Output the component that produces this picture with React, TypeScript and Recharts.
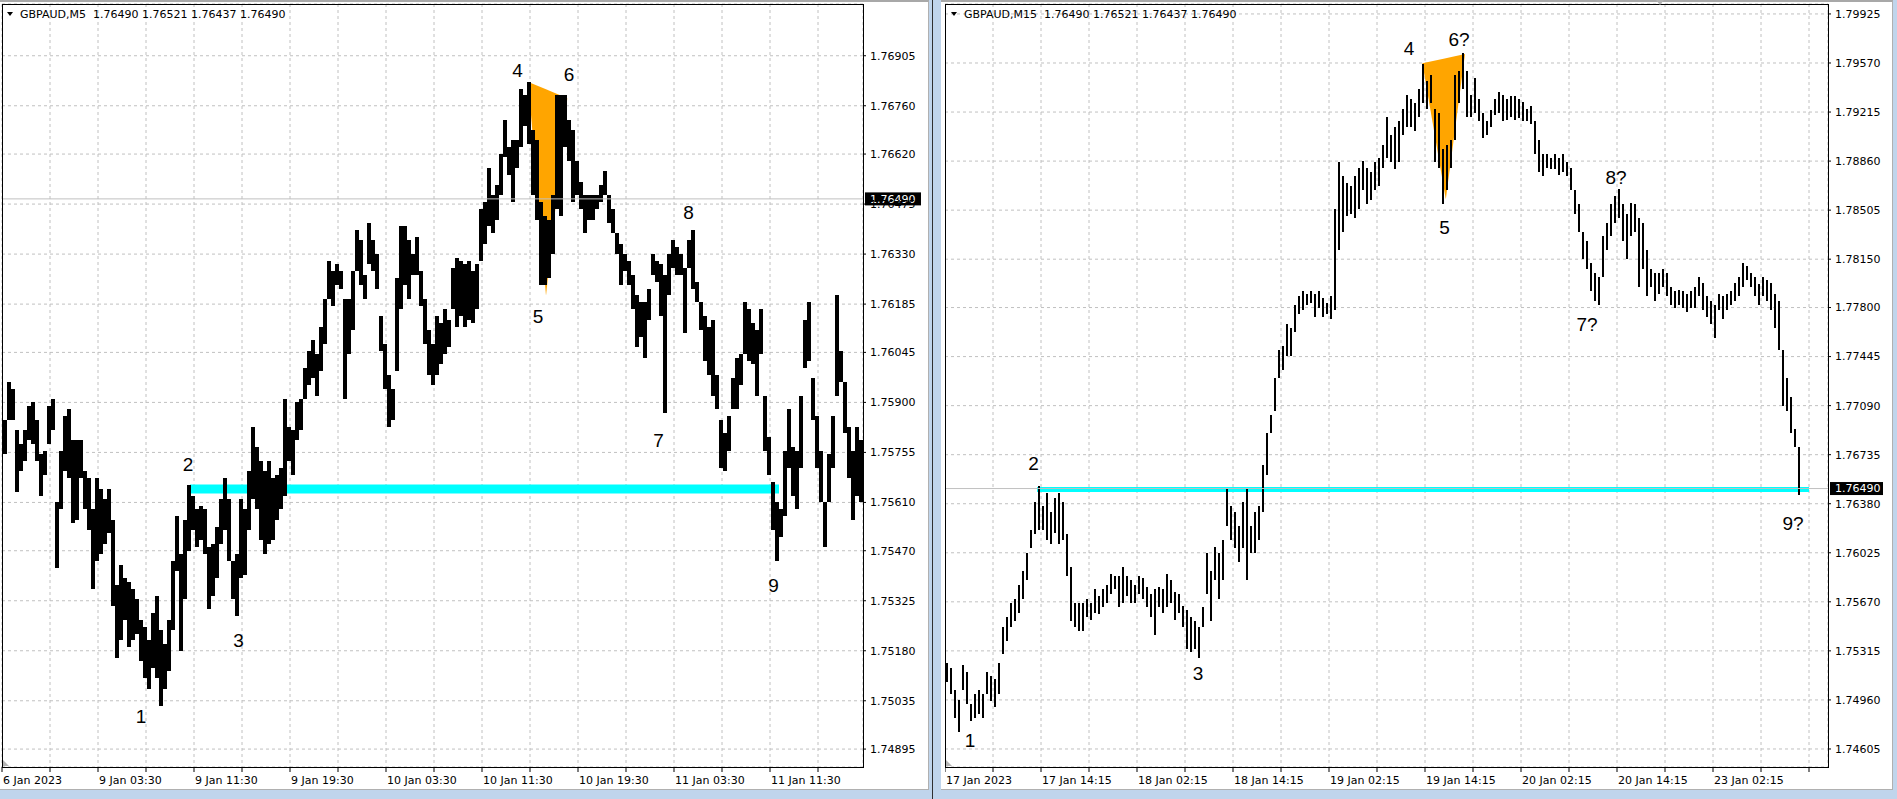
import React from 'react';
import { ComposedChart, Bar, Area, XAxis, YAxis, CartesianGrid, ReferenceLine, ReferenceDot } from 'recharts';

const AXIS_FONT = '"DejaVu Sans", Verdana, sans-serif';
const MARK_FONT = '"Liberation Sans", Arial, sans-serif';

const headerLeft = 'GBPAUD,M5  1.76490 1.76521 1.76437 1.76490';
const headerRight = 'GBPAUD,M15  1.76490 1.76521 1.76437 1.76490';
const bidPrice = 1.7649;

// ---------- LEFT: GBPAUD M5 (one sample per 4 bars) ----------
const leftHigh = [
  1.7585, 1.7596, 1.7594, 1.7582, 1.7578, 1.7582, 1.7589, 1.7590, 1.7585, 1.7575,
  1.7576, 1.7589, 1.7591, 1.7561, 1.7576, 1.7586, 1.7588, 1.7579, 1.7579, 1.7579,
  1.7570, 1.7568, 1.7559, 1.7568, 1.7565, 1.7562, 1.7565, 1.7556, 1.7537, 1.7543,
  1.7539, 1.7538, 1.7536, 1.7533, 1.7527, 1.7525, 1.7521, 1.7529, 1.7534, 1.7524,
  1.7520, 1.7527, 1.7544, 1.7557, 1.7546, 1.7556, 1.7566, 1.7563, 1.7559, 1.7560,
  1.7559, 1.7548, 1.7549, 1.7554, 1.7562, 1.7568, 1.7562, 1.7544, 1.7546, 1.7562,
  1.7559, 1.7570, 1.7583, 1.7577, 1.7573, 1.7570, 1.7573, 1.7568, 1.7569, 1.7571,
  1.7591, 1.7583, 1.7582, 1.7590, 1.7591, 1.7600, 1.7605, 1.7608, 1.7604, 1.7612,
  1.7620, 1.7631, 1.7628, 1.7630, 1.7628, 1.7620, 1.7620, 1.7628, 1.7640, 1.7637,
  1.7627, 1.7642, 1.7637, 1.7633, 1.7615, 1.7607, 1.7598, 1.7594, 1.7626, 1.7641,
  1.7641, 1.7637, 1.7633, 1.7638, 1.7628, 1.7620, 1.7611, 1.7607, 1.7615, 1.7613,
  1.7617, 1.7614, 1.7629, 1.7632, 1.7631, 1.7630, 1.7631, 1.7628, 1.7630, 1.7646,
  1.7648, 1.7658, 1.7650, 1.7653, 1.7662, 1.7672, 1.7664, 1.7666, 1.7666, 1.7681,
  1.7679, 1.7683, 1.7669, 1.7666, 1.7648, 1.7644, 1.7643, 1.7650, 1.7679, 1.7679,
  1.7679, 1.7672, 1.7669, 1.7660, 1.7654, 1.7650, 1.7650, 1.7650, 1.7650, 1.7653,
  1.7657, 1.7650, 1.7646, 1.7639, 1.7636, 1.7633, 1.7631, 1.7627, 1.7621, 1.7619,
  1.7619, 1.7623, 1.7633, 1.7631, 1.7630, 1.7627, 1.7633, 1.7637, 1.7635, 1.7633,
  1.7629, 1.7637, 1.7640, 1.7625, 1.7619, 1.7615, 1.7612, 1.7614, 1.7598, 1.7585,
  1.7581, 1.7586, 1.7597, 1.7603, 1.7604, 1.7619, 1.7617, 1.7613, 1.7611, 1.7617,
  1.7592, 1.7580, 1.7567, 1.7561, 1.7559, 1.7576, 1.7588, 1.7577, 1.7576, 1.7592,
  1.7614, 1.7619, 1.7597, 1.7586, 1.7576, 1.7561, 1.7575, 1.7586, 1.7621, 1.7605,
  1.7596, 1.7583, 1.7576, 1.7583, 1.7579,
];
const leftLow = [
  1.7575, 1.7585, 1.7585, 1.7564, 1.7570, 1.7573, 1.7579, 1.7578, 1.7573, 1.7563,
  1.7569, 1.7578, 1.7582, 1.7542, 1.7559, 1.7570, 1.7568, 1.7555, 1.7556, 1.7568,
  1.7559, 1.7553, 1.7536, 1.7544, 1.7546, 1.7549, 1.7552, 1.7531, 1.7516, 1.7521,
  1.7527, 1.7519, 1.7521, 1.7523, 1.7515, 1.7510, 1.7507, 1.7513, 1.7510, 1.7502,
  1.7507, 1.7512, 1.7524, 1.7541, 1.7518, 1.7533, 1.7547, 1.7553, 1.7548, 1.7550,
  1.7546, 1.7530, 1.7534, 1.7539, 1.7549, 1.7553, 1.7544, 1.7533, 1.7528, 1.7539,
  1.7540, 1.7553, 1.7562, 1.7559, 1.7550, 1.7546, 1.7549, 1.7550, 1.7556, 1.7559,
  1.7563, 1.7573, 1.7569, 1.7579, 1.7582, 1.7591, 1.7595, 1.7597, 1.7592, 1.7599,
  1.7607, 1.7620, 1.7618, 1.7624, 1.7623, 1.7591, 1.7604, 1.7611, 1.7628, 1.7624,
  1.7620, 1.7630, 1.7628, 1.7623, 1.7605, 1.7594, 1.7583, 1.7585, 1.7599, 1.7617,
  1.7624, 1.7620, 1.7627, 1.7627, 1.7618, 1.7607, 1.7598, 1.7595, 1.7598, 1.7601,
  1.7604, 1.7606, 1.7617, 1.7612, 1.7615, 1.7612, 1.7614, 1.7613, 1.7617, 1.7631,
  1.7636, 1.7641, 1.7639, 1.7643, 1.7650, 1.7661, 1.7656, 1.7648, 1.7658, 1.7664,
  1.7670, 1.7665, 1.7650, 1.7643, 1.7624, 1.7624, 1.7626, 1.7633, 1.7646, 1.7644,
  1.7664, 1.7660, 1.7648, 1.7650, 1.7646, 1.7639, 1.7643, 1.7643, 1.7646, 1.7648,
  1.7650, 1.7642, 1.7639, 1.7633, 1.7624, 1.7628, 1.7624, 1.7617, 1.7606, 1.7609,
  1.7603, 1.7614, 1.7627, 1.7625, 1.7615, 1.7587, 1.7621, 1.7629, 1.7627, 1.7627,
  1.7610, 1.7629, 1.7623, 1.7619, 1.7611, 1.7602, 1.7598, 1.7592, 1.7588, 1.7571,
  1.7570, 1.7576, 1.7588, 1.7588, 1.7595, 1.7604, 1.7602, 1.7601, 1.7592, 1.7604,
  1.7576, 1.7569, 1.7553, 1.7544, 1.7551, 1.7557, 1.7571, 1.7563, 1.7559, 1.7571,
  1.7600, 1.7602, 1.7585, 1.7571, 1.7561, 1.7548, 1.7561, 1.7571, 1.7592, 1.7596,
  1.7581, 1.7568, 1.7556, 1.7563, 1.7561,
];
const leftYTicks = [1.74895, 1.75035, 1.7518, 1.75325, 1.7547, 1.7561, 1.75755, 1.759, 1.76045, 1.76185, 1.7633, 1.76475, 1.7662, 1.7676, 1.76905];
const leftXTicks = [0, 48, 96, 144, 192, 240, 288, 336, 384, 432, 480, 528, 576, 624, 672, 720, 768, 816];
const leftXLabels = ['6 Jan 2023', '', '9 Jan 03:30', '', '9 Jan 11:30', '', '9 Jan 19:30', '', '10 Jan 03:30', '', '10 Jan 11:30', '', '10 Jan 19:30', '', '11 Jan 03:30', '', '11 Jan 11:30', ''];
const leftLevelTimes = [188, 777];
const leftLevelPrice = 1.75649;
const leftTriTimes = [526.3, 544, 565.3];
const leftTriPrices = [1.76829, 1.76209, 1.76782];
const leftMarkText = ['1', '2', '3', '4', '5', '6', '7', '8', '9'];
const leftMarkTimes = [139, 186, 236.5, 515.5, 536, 567, 656.5, 686.5, 771.5];
const leftMarkPrices = [1.7499, 1.7572, 1.7521, 1.76864, 1.7615, 1.7685, 1.7579, 1.7645, 1.7537];

// ---------- RIGHT: GBPAUD M15 (one sample per 2 bars) ----------
const rightHigh = [
  1.7523, 1.7519, 1.7503, 1.7496, 1.7521, 1.7516, 1.7493, 1.7500, 1.7503, 1.7500,
  1.7516, 1.7513, 1.7511, 1.7523, 1.7549, 1.7556, 1.7566, 1.7569, 1.7579, 1.7589,
  1.7602, 1.7619, 1.7639, 1.7651, 1.7636, 1.7646, 1.7632, 1.7642, 1.7646, 1.7639,
  1.7616, 1.7592, 1.7566, 1.7566, 1.7566, 1.7569, 1.7566, 1.7576, 1.7571, 1.7576,
  1.7579, 1.7587, 1.7586, 1.7586, 1.7592, 1.7586, 1.7583, 1.7579, 1.7586, 1.7584,
  1.7578, 1.7573, 1.7576, 1.7578, 1.7576, 1.7587, 1.7583, 1.7574, 1.7573, 1.7564,
  1.7561, 1.7556, 1.7553, 1.7549, 1.7563, 1.7602, 1.7589, 1.7607, 1.7602, 1.7612,
  1.7649, 1.7636,
  1.7632, 1.7622, 1.7639, 1.7649, 1.7622, 1.7632, 1.7636, 1.7666, 1.7689, 1.7702,
  1.7729, 1.7749, 1.7752, 1.7768, 1.7765, 1.7782, 1.7788, 1.7792, 1.7790, 1.7792,
  1.7790, 1.7792, 1.7787, 1.7783, 1.7788, 1.7851, 1.7885, 1.7875, 1.7870, 1.7868,
  1.7875, 1.7881, 1.7886, 1.7881, 1.7878, 1.7885, 1.7888, 1.7898, 1.7918, 1.7905,
  1.7911, 1.7915, 1.7924, 1.7934, 1.7931, 1.7928, 1.7938, 1.7956, 1.7944, 1.7948,
  1.7924, 1.7921, 1.7895, 1.7898, 1.7901, 1.7948, 1.7951, 1.7964, 1.7951, 1.7934,
  1.7946, 1.7931, 1.7921, 1.7915, 1.7923, 1.7931, 1.7936, 1.7934, 1.7931, 1.7933, 1.7933,
  1.7931,
  1.7929, 1.7924, 1.7926, 1.7915, 1.7901, 1.7891, 1.7891, 1.7888, 1.7891, 1.7888,
  1.7891, 1.7885, 1.7881, 1.7865, 1.7855, 1.7835, 1.7828, 1.7812, 1.7805, 1.7802,
  1.7832, 1.7841, 1.7855, 1.7861, 1.7866, 1.7855, 1.7848, 1.7856, 1.7855, 1.7845,
  1.7841, 1.7822, 1.7808, 1.7805, 1.7805, 1.7808, 1.7805, 1.7795, 1.7792, 1.7793,
  1.7792, 1.7790, 1.7792, 1.7795, 1.7802, 1.7798, 1.7788, 1.7785, 1.7782, 1.7790,
  1.7788, 1.7790, 1.7792, 1.7798, 1.7802, 1.7812, 1.7810, 1.7805, 1.7802, 1.7797,
  1.7802, 1.7800, 1.7798, 1.7790, 1.7785, 1.7749, 1.7729, 1.7715, 1.7692, 1.7679,
];
const rightLow = [
  1.7509, 1.7500, 1.7483, 1.7473, 1.7503, 1.7493, 1.7481, 1.7483, 1.7486, 1.7483,
  1.7500, 1.7495, 1.7491, 1.7500, 1.7529, 1.7539, 1.7549, 1.7553, 1.7559, 1.7569,
  1.7583, 1.7606, 1.7616, 1.7619, 1.7619, 1.7612, 1.7609, 1.7617, 1.7609, 1.7612,
  1.7586, 1.7553, 1.7549, 1.7546, 1.7546, 1.7556, 1.7554, 1.7559, 1.7558, 1.7563,
  1.7566, 1.7573, 1.7576, 1.7563, 1.7566, 1.7571, 1.7566, 1.7566, 1.7573, 1.7569,
  1.7563, 1.7556, 1.7543, 1.7563, 1.7559, 1.7563, 1.7566, 1.7554, 1.7559, 1.7549,
  1.7533, 1.7531, 1.7533, 1.7526, 1.7549, 1.7573, 1.7553, 1.7583, 1.7569, 1.7583,
  1.7622, 1.7612,
  1.7606, 1.7596, 1.7606, 1.7583, 1.7602, 1.7602, 1.7612, 1.7632, 1.7659, 1.7689,
  1.7705, 1.7729, 1.7735, 1.7745, 1.7745, 1.7762, 1.7775, 1.7778, 1.7782, 1.7783,
  1.7773, 1.7780, 1.7773, 1.7775, 1.7772, 1.7778, 1.7822, 1.7835, 1.7846, 1.7848,
  1.7845, 1.7851, 1.7865, 1.7855, 1.7858, 1.7865, 1.7868, 1.7881, 1.7888, 1.7885,
  1.7880, 1.7885, 1.7905, 1.7911, 1.7911, 1.7908, 1.7918, 1.7928, 1.7924, 1.7928,
  1.7885, 1.7881, 1.7855, 1.7865, 1.7881, 1.7901, 1.7928, 1.7938, 1.7918, 1.7918,
  1.7921, 1.7915, 1.7903, 1.7905, 1.7911, 1.7919, 1.7921, 1.7915, 1.7916, 1.7918, 1.7916,
  1.7917,
  1.7915, 1.7915, 1.7913, 1.7891, 1.7878, 1.7875, 1.7881, 1.7880, 1.7880, 1.7876,
  1.7878, 1.7875, 1.7865, 1.7848, 1.7835, 1.7815, 1.7808, 1.7792, 1.7785, 1.7782,
  1.7802, 1.7822, 1.7832, 1.7841, 1.7845, 1.7828, 1.7815, 1.7832, 1.7835, 1.7795,
  1.7808, 1.7788, 1.7795, 1.7785, 1.7790, 1.7795, 1.7788, 1.7782, 1.7780, 1.7782,
  1.7780, 1.7777, 1.7780, 1.7780, 1.7788, 1.7778, 1.7773, 1.7768, 1.7758, 1.7778,
  1.7772, 1.7778, 1.7782, 1.7785, 1.7788, 1.7795, 1.7800, 1.7795, 1.7788, 1.7782,
  1.7788, 1.7785, 1.7778, 1.7765, 1.7749, 1.7709, 1.7705, 1.7689, 1.7679, 1.7644,
];
const rightYTicks = [1.74605, 1.7496, 1.75315, 1.7567, 1.76025, 1.7638, 1.76735, 1.7709, 1.77445, 1.778, 1.7815, 1.78505, 1.7886, 1.79215, 1.7957, 1.79925];
const rightXTicks = [0, 24, 48, 72, 96, 120, 144, 168, 192, 216, 240, 264, 288, 312, 336, 360, 384, 408, 432];
const rightXLabels = ['17 Jan 2023', '', '17 Jan 14:15', '', '18 Jan 02:15', '', '18 Jan 14:15', '', '19 Jan 02:15', '', '19 Jan 14:15', '', '20 Jan 02:15', '', '20 Jan 14:15', '', '23 Jan 02:15', '', ''];
const rightLevelTimes = [46, 432];
const rightLevelPrice = 1.76483;
const rightTriTimes = [238.7, 250.4, 260];
const rightTriPrices = [1.79568, 1.78584, 1.79635];
const rightMarkText = ['1', '2', '3', '4', '5', '6?', '7?', '8?', '9?'];
const rightMarkTimes = [12.5, 44.25, 126.5, 232, 249.75, 257, 321, 335.5, 424];
const rightMarkPrices = [1.7467, 1.7667, 1.7515, 1.7968, 1.7838, 1.7974, 1.7768, 1.7874, 1.7624];

function triangleData(times: number[], prices: number[]) {
  const [ta, tb, tc] = times;
  const [pa, pb, pc] = prices;
  const top = pa + ((pc - pa) * (tb - ta)) / (tc - ta);
  return [
    { t: ta, r: [pa, pa] },
    { t: tb, r: [pb, top] },
    { t: tc, r: [pc, pc] },
  ];
}

function XTick(props: any) {
  const { x, y, payload, tickValues, labels } = props;
  const i = tickValues.indexOf(payload.value);
  const text = i >= 0 ? labels[i] : '';
  if (!text) return <g />;
  return (
    <text x={x + 1} y={y} dy="0.71em" textAnchor="start" fontSize={11} fill="#000" fontFamily={AXIS_FONT}>
      {text}
    </text>
  );
}

function makeBidLabel(boxWidth: number) {
  return (props: any) => {
    const vb = props.viewBox || {};
    const right = (vb.x || 0) + (vb.width || 0);
    const y = vb.y || 0;
    return (
      <g>
        <rect x={right + 2} y={y - 6.5} width={boxWidth} height={13} fill="#000" />
        <text x={right + 7} y={y} dy="0.36em" fontSize={11} fill="#fff" fontFamily={AXIS_FONT}>
          {bidPrice.toFixed(5)}
        </text>
      </g>
    );
  };
}

function makeBarShape(w: number) {
  return (props: any) => {
    const { x, y, width, height } = props;
    if (x == null || y == null) return <g />;
    const cx = x + (width || 0) / 2;
    const top = Math.min(y, y + height);
    const h = Math.max(Math.abs(height), 1);
    return <rect x={cx - w / 2} y={top} width={w} height={h} fill="#000" shapeRendering="crispEdges" />;
  };
}

function PriceChart(p: any) {
  const data = p.highs.map((h: number, i: number) => ({ t: p.first + p.step * i, range: [p.lows[i], h] }));
  const tri = triangleData(p.triTimes, p.triPrices);
  const level = p.levelTimes.map((t: number) => ({ t, v: p.levelPrice }));
  return (
    <ComposedChart width={p.width} height={p.height} data={data} margin={p.margin}>
      <CartesianGrid stroke="#c0c0c0" strokeDasharray="3 3" />
      <XAxis
        type="number"
        dataKey="t"
        domain={p.xDomain}
        ticks={p.xTicks}
        interval={0}
        allowDataOverflow
        axisLine={false}
        tickLine={{ stroke: '#000' }}
        tickSize={5}
        tickMargin={4}
        height={22}
        tick={(tp: any) => <XTick {...tp} tickValues={p.xTicks} labels={p.xLabels} />}
      />
      <YAxis
        orientation="right"
        type="number"
        domain={p.yDomain}
        ticks={p.yTicks}
        interval={0}
        allowDataOverflow
        axisLine={false}
        tickLine={{ stroke: '#000' }}
        tickSize={3}
        tickMargin={4}
        width={p.yWidth}
        tick={{ fontSize: 11, fill: '#000', fontFamily: AXIS_FONT }}
        tickFormatter={(v: number) => v.toFixed(5)}
      />
      <ReferenceLine y={bidPrice} stroke="#c0c0c0" strokeWidth={1} label={makeBidLabel(p.bidBox)} />
      <Area data={tri} dataKey="r" type="linear" stroke="none" fill="#ffa500" fillOpacity={1} isAnimationActive={false} dot={false} activeDot={false} />
      <Area data={level} dataKey="v" type="linear" stroke="#00ffff" strokeWidth={p.levelWidth} fill="none" isAnimationActive={false} dot={false} activeDot={false} />
      <Bar dataKey="range" fill="#000" barSize={p.barSize} shape={makeBarShape(p.barSize)} isAnimationActive={false} />
      {p.markText.map((txt: string, i: number) => (
        <ReferenceDot
          key={i}
          x={p.markTimes[i]}
          y={p.markPrices[i]}
          r={0}
          fill="none"
          stroke="none"
          label={{ value: txt, position: 'center', fontSize: 19, fill: '#000', fontFamily: MARK_FONT }}
        />
      ))}
    </ComposedChart>
  );
}

const abs = (s: any) => ({ position: 'absolute' as const, ...s });

export default function App() {
  return (
    <div style={abs({ left: 0, top: 0, width: 1897, height: 799, background: '#c0d5ec', overflow: 'hidden' })}>
      {/* panels */}
      <div style={abs({ left: 0, top: 0, width: 929, height: 790, background: '#fff', borderTop: '2px solid #a8a8a8', borderRight: '1px solid #b0b0b0', borderBottom: '1px solid #b0b0b0', boxSizing: 'border-box' })} />
      <div style={abs({ left: 932, top: 0, width: 1, height: 799, background: '#303030' })} />
      <div style={abs({ left: 941, top: 0, width: 952, height: 790, background: '#fff', borderTop: '2px solid #a8a8a8', borderRight: '1px solid #b0b0b0', borderBottom: '1px solid #b0b0b0', boxSizing: 'border-box' })} />

      <div style={abs({ left: 0, top: 0 })}>
        <PriceChart
          width={928}
          height={789}
          margin={{ top: 4, right: 5, bottom: 0, left: 2 }}
          yWidth={60}
          highs={leftHigh}
          lows={leftLow}
          first={3}
          step={4}
          barSize={4}
          xDomain={[0, 861]}
          xTicks={leftXTicks}
          xLabels={leftXLabels}
          yDomain={[1.74843, 1.77055]}
          yTicks={leftYTicks}
          levelTimes={leftLevelTimes}
          levelPrice={leftLevelPrice}
          levelWidth={9}
          triTimes={leftTriTimes}
          triPrices={leftTriPrices}
          markText={leftMarkText}
          markTimes={leftMarkTimes}
          markPrices={leftMarkPrices}
          bidBox={56}
        />
      </div>
      <div style={abs({ left: 945, top: 0 })}>
        <PriceChart
          width={948}
          height={789}
          margin={{ top: 4, right: 5, bottom: 0, left: 0 }}
          yWidth={60}
          highs={rightHigh}
          lows={rightLow}
          first={1}
          step={2}
          barSize={2}
          xDomain={[0, 441.5]}
          xTicks={rightXTicks}
          xLabels={rightXLabels}
          yDomain={[1.744745, 1.79997]}
          yTicks={rightYTicks}
          levelTimes={rightLevelTimes}
          levelPrice={rightLevelPrice}
          levelWidth={5}
          triTimes={rightTriTimes}
          triPrices={rightTriPrices}
          markText={rightMarkText}
          markTimes={rightMarkTimes}
          markPrices={rightMarkPrices}
          bidBox={53}
        />
      </div>

      {/* plot frames */}
      <div style={abs({ left: 2, top: 4, width: 862, height: 764, border: '1px solid #000', boxSizing: 'border-box', pointerEvents: 'none' })} />
      <div style={abs({ left: 945, top: 4, width: 884, height: 764, border: '1px solid #000', boxSizing: 'border-box', pointerEvents: 'none' })} />

      {/* corner markers */}
      <div style={abs({ left: 3, top: 760, width: 0, height: 0, borderBottom: '6px solid #b4b4b4', borderRight: '6px solid transparent' })} />
      <div style={abs({ left: 946, top: 760, width: 0, height: 0, borderBottom: '6px solid #b4b4b4', borderRight: '6px solid transparent' })} />
      <div style={abs({ left: 1656, top: 0, width: 0, height: 0, borderTop: '5px solid #b4b4b4', borderLeft: '4px solid transparent', borderRight: '4px solid transparent' })} />

      {/* headers */}
      <div style={abs({ left: 7, top: 12, width: 0, height: 0, borderTop: '4px solid #000', borderLeft: '3px solid transparent', borderRight: '3px solid transparent' })} />
      <div style={abs({ left: 20, top: 8, fontSize: 11, lineHeight: '13px', fontFamily: AXIS_FONT, color: '#000', whiteSpace: 'pre' })}>{headerLeft}</div>
      <div style={abs({ left: 951, top: 12, width: 0, height: 0, borderTop: '4px solid #000', borderLeft: '3px solid transparent', borderRight: '3px solid transparent' })} />
      <div style={abs({ left: 964, top: 8, fontSize: 11, lineHeight: '13px', fontFamily: AXIS_FONT, color: '#000', whiteSpace: 'pre' })}>{headerRight}</div>
    </div>
  );
}
